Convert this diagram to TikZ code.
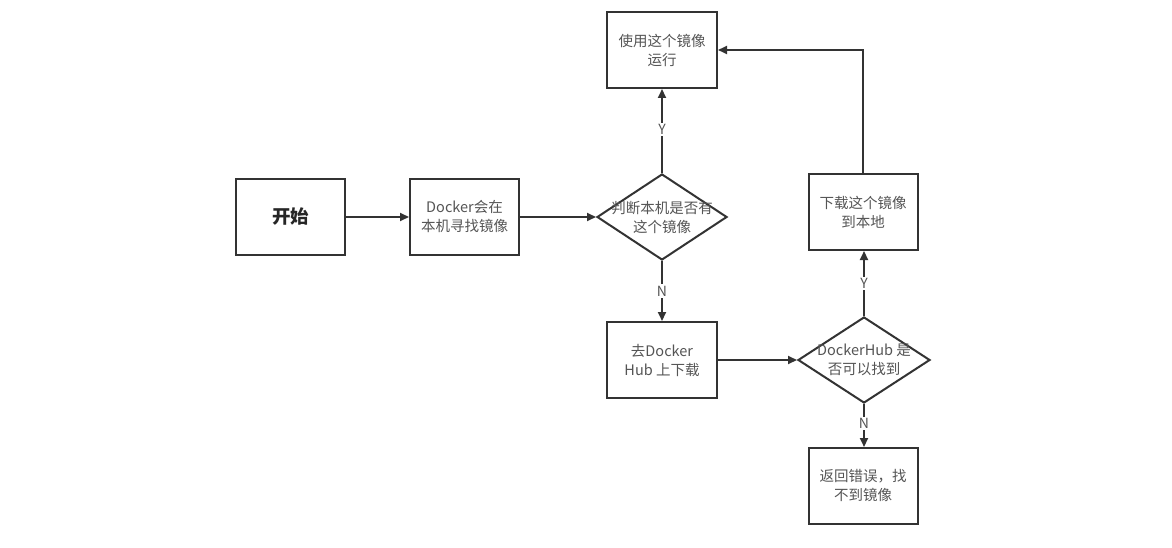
\documentclass[tikz,border=0pt]{standalone}
\usepackage{fontspec}
\setmainfont{Noto Sans CJK SC}
\usetikzlibrary{shapes.geometric,arrows.meta}
\definecolor{txt}{HTML}{555555}
\definecolor{ln}{HTML}{333333}
\tikzset{
  box/.style={draw=ln,line width=2pt,minimum width=109pt,minimum height=76pt,inner sep=0pt,align=center,text=txt,font=\fontsize{14.5pt}{19pt}\selectfont},
  dia/.style={draw=ln,line width=2pt,diamond,aspect=1.5,minimum width=130pt,minimum height=86pt,inner sep=0pt},
  diatext/.style={inner sep=0pt,align=center,text=txt,font=\fontsize{14.5pt}{19pt}\selectfont},
  conn/.style={draw=ln,line width=2pt,-{Triangle[length=9pt,width=8pt]}},
  lbl/.style={fill=white,inner sep=1.5pt,text=txt,font=\fontsize{14pt}{16pt}\selectfont}
}
\begin{document}
\begin{tikzpicture}[x=1pt,y=-1pt]
\useasboundingbox[fill=white] (0,0) rectangle (1172,548);
\node[box,text=black!85,font=\fontsize{18.5pt}{22pt}\selectfont\bfseries] (start) at (290.5,217) {开始};
\node[box] (look) at (464.5,217) {Docker会在\\本机寻找镜像};
\node[dia] (d1) at (662,217) {};
\node[diatext] (d1t) at (d1.center) {判断本机是否有\\这个镜像};
\node[box,minimum width=110pt] (run) at (662,50) {使用这个镜像\\运行};
\node[box,minimum width=110pt] (hub) at (662,360) {去Docker\\Hub 上下载};
\node[dia,minimum width=132pt,minimum height=86pt] (d2) at (864,360) {};
\node[diatext] (d2t) at (d2.center) {DockerHub 是\\否可以找到};
\node[box] (dl) at (863,212) {下载这个镜像\\到本地};
\node[box] (err) at (863,486) {返回错误，找\\不到镜像};
\draw[conn] (start) -- (look);
\draw[conn] (look) -- (d1);
\draw[conn] (d1) -- node[lbl,pos=0.52]{Y} (run);
\draw[conn] (d1) -- node[lbl,pos=0.5]{N} (hub);
\draw[conn] (hub) -- (d2);
\draw[conn] (d2.north) -- node[lbl,pos=0.5]{Y} (d2.north |- dl.south);
\draw[conn] (d2.south) -- node[lbl,pos=0.45]{N} (d2.south |- err.north);
\draw[conn] (dl.north) |- (run.east);
\end{tikzpicture}
\end{document}
